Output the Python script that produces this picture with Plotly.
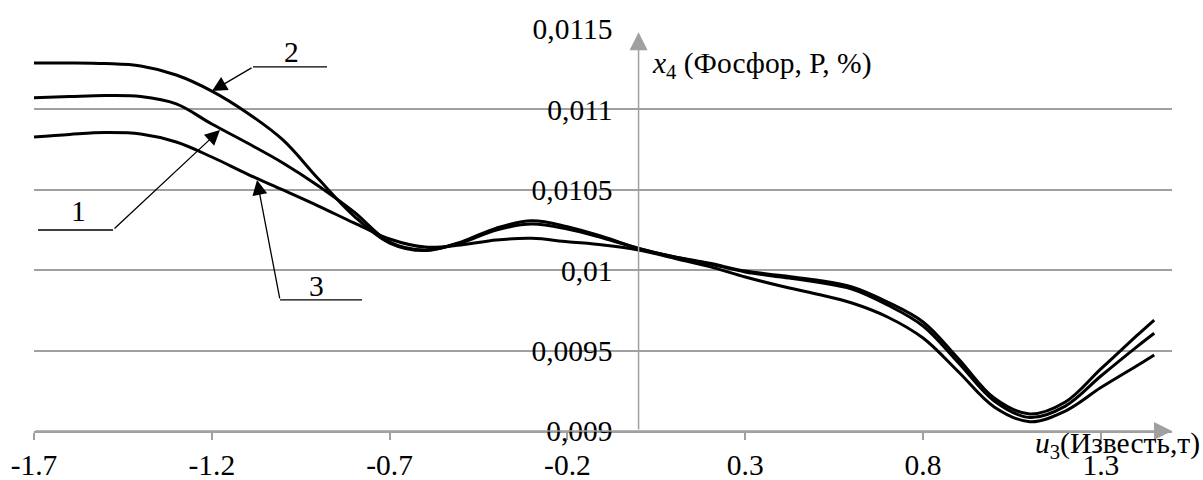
import plotly.graph_objects as go

# ---- data ----
u3 = [-1.7, -1.6, -1.5, -1.4, -1.3, -1.2, -1.1, -1.0, -0.9, -0.8, -0.7, -0.6, -0.5, -0.4,
      -0.3, -0.2, -0.1, 0.0, 0.1, 0.2, 0.3, 0.4, 0.5, 0.6, 0.7, 0.8, 0.9, 1.0, 1.1, 1.2,
      1.3, 1.4, 1.45]

curve1 = [0.011073, 0.011080, 0.011086, 0.011080, 0.011034, 0.010909, 0.010791, 0.010667,
          0.010524, 0.010362, 0.010175, 0.010126, 0.010169, 0.010250, 0.010287, 0.010256,
          0.010200, 0.010135, 0.010082, 0.010039, 0.009989, 0.009958, 0.009927, 0.009883,
          0.009784, 0.009653, 0.009423, 0.009187, 0.009084, 0.009155, 0.009342, 0.009522,
          0.009608]

curve2 = [0.011289, 0.011289, 0.011285, 0.011270, 0.011214, 0.011114, 0.010978, 0.010810,
          0.010567, 0.010337, 0.010169, 0.010122, 0.010175, 0.010262, 0.010308, 0.010271,
          0.010208, 0.010136, 0.010084, 0.010043, 0.009995, 0.009967, 0.009939, 0.009896,
          0.009802, 0.009678, 0.009448, 0.009205, 0.009106, 0.009180, 0.009386, 0.009591,
          0.009690]

curve3 = [0.010828, 0.010844, 0.010856, 0.010847, 0.010797, 0.010704, 0.010598, 0.010499,
          0.010399, 0.010294, 0.010194, 0.010144, 0.010157, 0.010188, 0.010198, 0.010177,
          0.010157, 0.010126, 0.010074, 0.010022, 0.009958, 0.009902, 0.009852, 0.009796,
          0.009709, 0.009578, 0.009367, 0.009150, 0.009058, 0.009124, 0.009270, 0.009404,
          0.009473]

x_tick_vals = [-1.7, -1.2, -0.7, -0.2, 0.3, 0.8, 1.3]
x_tick_labels = ["-1.7", "-1.2", "-0.7", "-0.2", "0.3", "0.8", "1.3"]
y_tick_vals = [0.009, 0.0095, 0.01, 0.0105, 0.011, 0.0115]
y_tick_labels = ["0,009", "0,0095", "0,01", "0,0105", "0,011", "0,0115"]

series_names = ["1", "2", "3"]

FONT = "Liberation Serif"
FS = 29.5
GRID = "#a0a0a0"
X_MIN, X_MAX = -1.7, 1.5
Y_MIN, Y_MAX = 0.009, 0.0115

fig = go.Figure()
for name, ys in zip(series_names, [curve1, curve2, curve3]):
    fig.add_trace(go.Scatter(
        x=u3, y=ys, mode="lines", name=name,
        line=dict(color="black", width=3, shape="spline", smoothing=1.0),
        showlegend=False, hoverinfo="skip"))

# curve callouts: arrow to curve, horizontal leader, number label
callouts = [
    # name, tip (x,y), elbow (x,y), leader end x, label (x,y)
    ("1", (-1.177, 0.010872), (-1.4778, 0.010250), -1.6888, (-1.5735, 0.010368)),
    ("2", (-1.1994, 0.011114), (-1.0841, 0.011264), -0.876, (-0.9773, 0.011357)),
    ("3", (-1.0729, 0.010561), (-1.0082, 0.009815), -0.7776, (-0.907, 0.009902)),
]
annotations = []
shapes = []
for name, tip, elbow, lead_x, lab in callouts:
    annotations.append(dict(
        x=tip[0], y=tip[1], ax=elbow[0], ay=elbow[1], xref="x", yref="y",
        axref="x", ayref="y", text="", showarrow=True, arrowhead=2,
        arrowsize=2.3, arrowwidth=1.3, arrowcolor="black", standoff=0))
    shapes.append(dict(type="line", xref="x", yref="y", x0=elbow[0], y0=elbow[1],
                       x1=lead_x, y1=elbow[1], line=dict(color="black", width=1.3)))
    annotations.append(dict(x=lab[0], y=lab[1], xref="x", yref="y", text=name,
                            showarrow=False, font=dict(family=FONT, size=FS, color="black")))

# y axis (through u3 = 0) with arrow
annotations.append(dict(x=0, y=0.01148, ax=0, ay=Y_MIN, xref="x", yref="y",
                        axref="x", ayref="y", text="", showarrow=True, arrowhead=2,
                        arrowsize=2.4, arrowwidth=1.5, arrowcolor=GRID, standoff=0))
# x axis arrow
annotations.append(dict(x=X_MAX, y=Y_MIN, ax=X_MIN, ay=Y_MIN, xref="x", yref="y",
                        axref="x", ayref="y", text="", showarrow=True, arrowhead=2,
                        arrowsize=2.4, arrowwidth=1.5, arrowcolor=GRID, standoff=0))
# axis titles
annotations.append(dict(x=0.5413, y=0.9104, xref="paper", yref="paper",
                        xanchor="left", yanchor="middle", showarrow=False,
                        text="<i>x</i><sub>4</sub> (Фосфор, P, %)",
                        font=dict(family=FONT, size=FS, color="black")))
annotations.append(dict(x=1.0264, y=-0.034, xref="paper", yref="paper",
                        xanchor="right", yanchor="middle", showarrow=False,
                        text="<i>u</i><sub>3</sub>(Известь,т)",
                        font=dict(family=FONT, size=FS, color="black")))

fig.update_layout(
    width=1203, height=480,
    margin=dict(l=34, r=31, t=29, b=49, autoexpand=False),
    paper_bgcolor="white", plot_bgcolor="white",
    font=dict(family=FONT, size=FS, color="black"),
    xaxis=dict(range=[X_MIN, X_MAX], tickvals=x_tick_vals, ticktext=x_tick_labels,
               automargin=False,
               showgrid=False, zeroline=False, showline=True, linecolor=GRID,
               linewidth=1.5, ticks="outside", ticklen=7, tickwidth=1.5,
               tickcolor=GRID, ticklabelstandoff=0,
               tickfont=dict(family=FONT, size=FS, color="black")),
    yaxis=dict(range=[Y_MIN, Y_MAX], tickvals=y_tick_vals, ticktext=y_tick_labels,
               automargin=False,
               anchor="free", position=(0 - X_MIN) / (X_MAX - X_MIN),
               showgrid=True, gridcolor=GRID, gridwidth=1.5, zeroline=False,
               showline=False, ticks="", ticklabelstandoff=26,
               tickfont=dict(family=FONT, size=FS, color="black")),
    annotations=annotations, shapes=shapes,
)

fig.write_html("out.html")
